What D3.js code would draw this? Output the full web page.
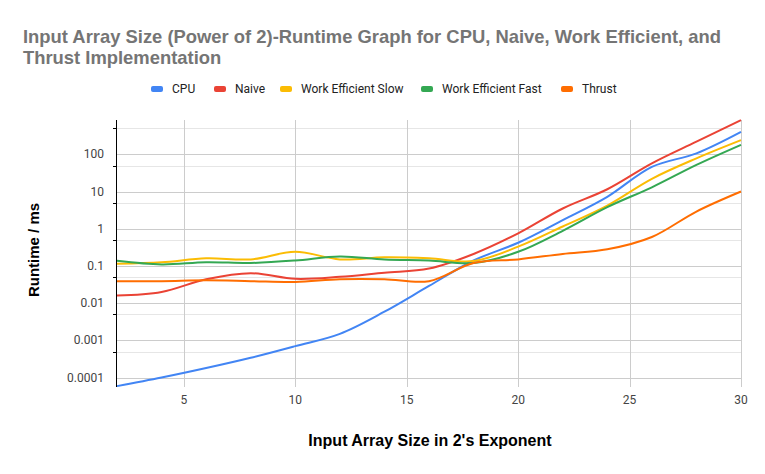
<!DOCTYPE html>
<html>
<head>
<meta charset="utf-8">
<script src="https://cdn.jsdelivr.net/npm/d3@7"></script>
<style>
  body { margin: 0; background: #fff; }
  svg text { font-family: Roboto, "Liberation Sans", Arial, sans-serif; }
  svg text.heavy { font-family: "Liberation Sans", Arial, sans-serif; font-weight: bold; }
</style>
</head>
<body>
<svg id="chart" width="765" height="474"></svg>
<script>
// exponents (x axis)
const exponents = [2, 4, 6, 8, 10, 12, 14, 16, 18, 20, 22, 24, 26, 28, 30];

// runtimes in ms
const cpu        = [0.000059, 0.0001, 0.00018, 0.00034, 0.0007, 0.0015, 0.0059, 0.029, 0.14, 0.42, 1.7, 7.2, 46, 106, 400];
const naive      = [0.016, 0.020, 0.044, 0.064, 0.045, 0.051, 0.066, 0.085, 0.21, 0.75, 3.5, 11.5, 57, 218, 830];
const weSlow     = [0.115, 0.126, 0.16, 0.15, 0.24, 0.15, 0.17, 0.16, 0.135, 0.33, 1.15, 4.2, 22, 78, 240];
const weFast     = [0.138, 0.11, 0.126, 0.12, 0.14, 0.18, 0.15, 0.14, 0.12, 0.24, 0.88, 3.8, 13, 52, 180];
const thrust     = [0.039, 0.039, 0.041, 0.039, 0.037, 0.044, 0.044, 0.039, 0.12, 0.15, 0.21, 0.28, 0.6, 2.9, 10];

const seriesNames  = ['CPU', 'Naive', 'Work Efficient Slow', 'Work Efficient Fast', 'Thrust'];
const seriesColors = ['#4285F4', '#EA4335', '#FBBC04', '#34A853', '#FF6D01'];
const seriesValues = [cpu, naive, weSlow, weFast, thrust];

const xTicks = [5, 10, 15, 20, 25, 30];
const yTicks = [0.0001, 0.001, 0.01, 0.1, 1, 10, 100];
const yMinor = [0.0005, 0.005, 0.05, 0.5, 5, 50, 500];

const svg = d3.select('#chart');
const plot = { left: 117, right: 741, top: 120, bottom: 387 };

const x = d3.scaleLinear().domain([2, 30]).range([plot.left, plot.right]);
const y = d3.scaleLog().domain([Math.pow(10, -4.253), Math.pow(10, 2.922)]).range([plot.bottom, plot.top]);

// title
const title = svg.append('text')
    .attr('class', 'heavy')
    .attr('font-size', 18.4).attr('fill', '#757575');
title.append('tspan').attr('x', 23).attr('y', 43)
    .text('Input Array Size (Power of 2)-Runtime Graph for CPU, Naive, Work Efficient, and');
title.append('tspan').attr('x', 23).attr('y', 64)
    .text('Thrust Implementation');

// legend
const legendX = [151, 214, 280, 421, 561];
const legend = svg.append('g');
seriesNames.forEach((name, i) => {
    legend.append('rect')
        .attr('x', legendX[i]).attr('y', 86).attr('width', 12).attr('height', 6)
        .attr('rx', 2).attr('fill', seriesColors[i]);
    legend.append('text')
        .attr('x', legendX[i] + 21).attr('y', 93)
        .attr('font-size', 12).attr('fill', '#222')
        .text(name);
});

// gridlines
const grid = svg.append('g');
grid.selectAll('.minor')
    .data(yMinor)
    .join('line')
    .attr('x1', plot.left).attr('x2', plot.right)
    .attr('y1', d => Math.round(y(d)) + 0.5).attr('y2', d => Math.round(y(d)) + 0.5)
    .attr('stroke', '#e6e6e6');
grid.selectAll('.major')
    .data(yTicks)
    .join('line')
    .attr('x1', plot.left).attr('x2', plot.right)
    .attr('y1', d => Math.round(y(d)) + 0.5).attr('y2', d => Math.round(y(d)) + 0.5)
    .attr('stroke', '#cccccc');
grid.selectAll('.vert')
    .data(xTicks)
    .join('line')
    .attr('x1', d => Math.round(x(d)) + 0.5).attr('x2', d => Math.round(x(d)) + 0.5)
    .attr('y1', plot.top).attr('y2', plot.bottom)
    .attr('stroke', '#cccccc');

// y axis labels
svg.append('g').selectAll('text')
    .data(yTicks)
    .join('text')
    .attr('x', 104).attr('y', d => y(d) + 4)
    .attr('text-anchor', 'end').attr('font-size', 12).attr('fill', '#444')
    .text(d => d3.format('~')(d));

// x axis labels
svg.append('g').selectAll('text')
    .data(xTicks)
    .join('text')
    .attr('x', d => x(d)).attr('y', 404)
    .attr('text-anchor', 'middle').attr('font-size', 12).attr('fill', '#444')
    .text(d => d);

// lines
const line = d3.line()
    .x((d, i) => x(exponents[i]))
    .y(d => y(d))
    .curve(d3.curveCatmullRom.alpha(0.5));

svg.append('g').selectAll('path')
    .data(seriesValues)
    .join('path')
    .attr('d', d => line(d))
    .attr('fill', 'none')
    .attr('stroke', (d, i) => seriesColors[i])
    .attr('stroke-width', 2);

// y axis line with ticks at minor positions
svg.append('line')
    .attr('x1', plot.left - 0.5).attr('x2', plot.left - 0.5)
    .attr('y1', plot.top).attr('y2', plot.bottom)
    .attr('stroke', '#000');
svg.append('g').selectAll('line')
    .data(yMinor)
    .join('line')
    .attr('x1', plot.left - 4).attr('x2', plot.left)
    .attr('y1', d => Math.round(y(d)) + 0.5).attr('y2', d => Math.round(y(d)) + 0.5)
    .attr('stroke', '#000');

// axis titles
svg.append('text')
    .attr('class', 'heavy')
    .attr('x', 430).attr('y', 446)
    .attr('text-anchor', 'middle').attr('font-size', 16).attr('fill', '#000')
    .text("Input Array Size in 2's Exponent");
svg.append('text')
    .attr('class', 'heavy')
    .attr('transform', 'translate(39,250) rotate(-90)')
    .attr('text-anchor', 'middle').attr('font-size', 15).attr('fill', '#000')
    .text('Runtime / ms');
</script>
</body>
</html>
